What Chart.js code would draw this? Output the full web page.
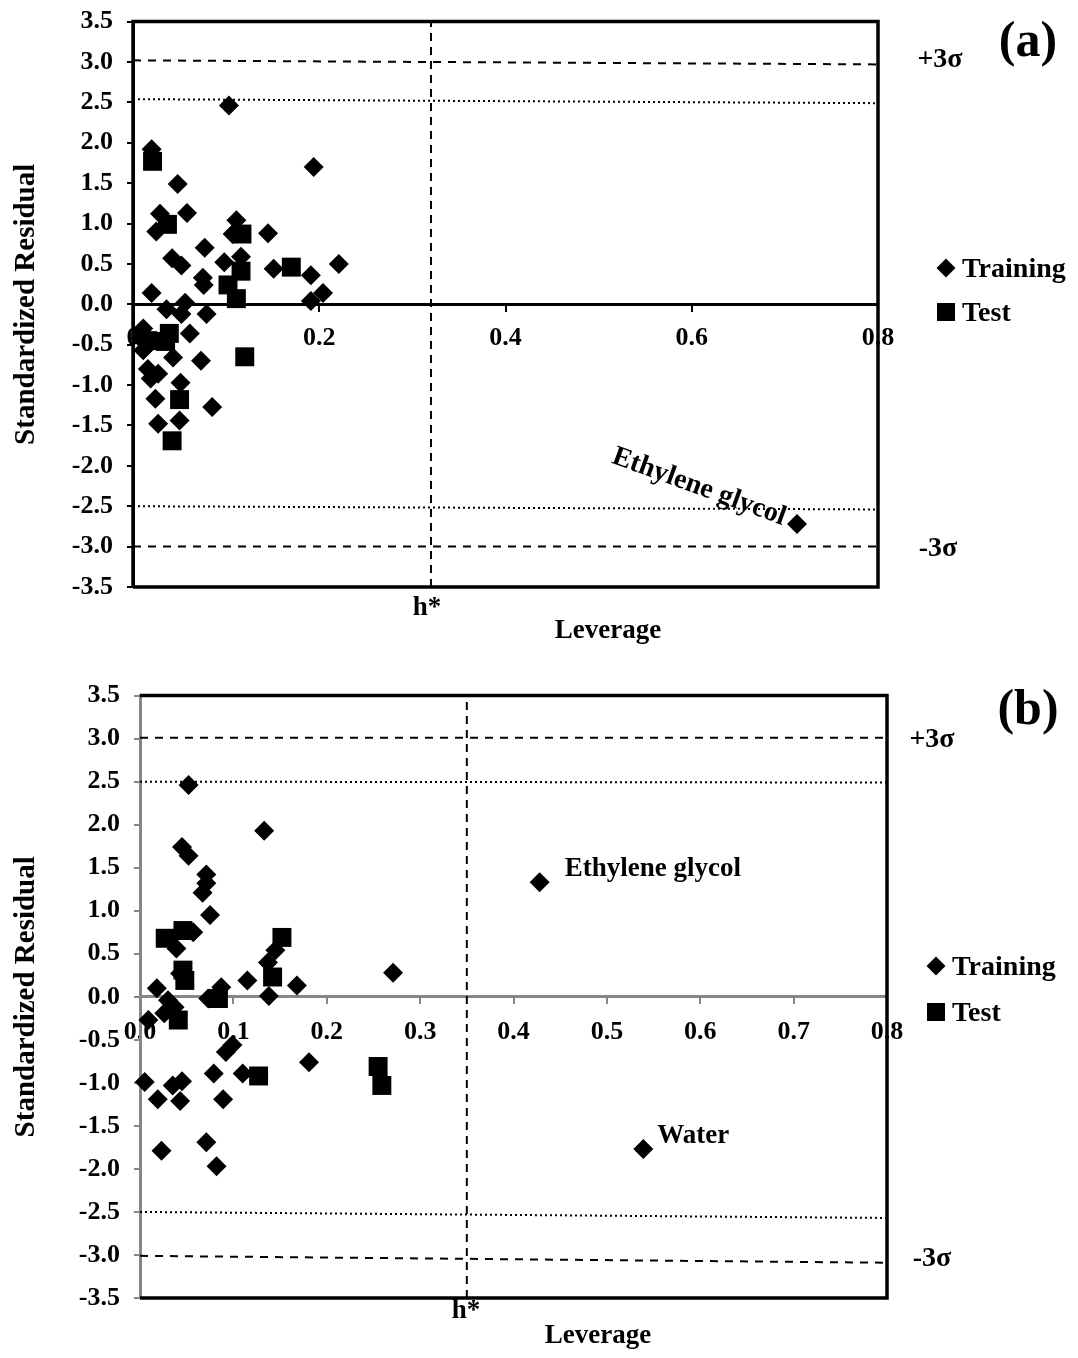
<!DOCTYPE html>
<html>
<head>
<meta charset="utf-8">
<script src="https://cdn.jsdelivr.net/npm/chart.js@4.4.0/dist/chart.umd.min.js"></script>
<style>
  body { margin: 0; background: #fff; }
  .box { position: absolute; left: 0; width: 1078px; }
  #boxA { top: -8px; height: 660px; }
  #boxB { top: 666px; height: 692px; }
</style>
</head>
<body>
<div class="box" id="boxA"><canvas id="chartA"></canvas></div>
<div class="box" id="boxB"><canvas id="chartB"></canvas></div>
<script>
/* ---- (a) ---- */
const trainLevA = [0.103, 0.020, 0.048, 0.194, 0.029, 0.025, 0.058, 0.111, 0.107, 0.145, 0.077, 0.042, 0.052, 0.098,
  0.116, 0.151, 0.221, 0.191, 0.204, 0.191, 0.075, 0.076, 0.020, 0.036, 0.056, 0.052, 0.079, 0.011, 0.061, 0.008,
  0.011, 0.043, 0.073, 0.016, 0.027, 0.019, 0.051, 0.024, 0.085, 0.027, 0.050, 0.713];
const trainResA = [2.46, 1.92, 1.49, 1.70, 1.12, 0.90, 1.13, 1.04, 0.87, 0.88, 0.70, 0.57, 0.48, 0.52,
  0.59, 0.44, 0.50, 0.36, 0.14, 0.04, 0.33, 0.24, 0.14, -0.06, 0.02, -0.12, -0.12, -0.30, -0.36, -0.42,
  -0.57, -0.66, -0.70, -0.80, -0.86, -0.92, -0.97, -1.17, -1.27, -1.48, -1.44, -2.72];
const testLevA = [0.021, 0.037, 0.117, 0.116, 0.170, 0.102, 0.111, 0.039, 0.016, 0.035, 0.120, 0.050, 0.042];
const testResA = [1.77, 0.99, 0.87, 0.41, 0.46, 0.24, 0.07, -0.36, -0.45, -0.46, -0.65, -1.18, -1.69];
const hStarA = 0.32;
const limitLevA = [0, 0.8];
const plus3A = [3.02, 2.97];
const plus25A = [2.54, 2.49];
const minus25A = [-2.50, -2.54];
const minus3A = [-3.00, -3.00];

/* ---- (b) ---- */
const trainLevB = [0.052, 0.133, 0.045, 0.052, 0.071, 0.071, 0.067, 0.075, 0.057, 0.039, 0.145, 0.137, 0.168, 0.115,
  0.138, 0.043, 0.018, 0.030, 0.037, 0.026, 0.009, 0.087, 0.073, 0.271, 0.099, 0.092, 0.181, 0.110, 0.079, 0.005,
  0.035, 0.045, 0.019, 0.043, 0.089, 0.023, 0.071, 0.082, 0.428, 0.539];
const trainResB = [2.46, 1.93, 1.74, 1.64, 1.42, 1.32, 1.21, 0.95, 0.75, 0.56, 0.54, 0.40, 0.13, 0.19,
  0.01, 0.27, 0.10, -0.04, -0.12, -0.19, -0.27, 0.11, -0.02, 0.28, -0.56, -0.64, -0.76, -0.89, -0.89, -0.99,
  -1.03, -0.98, -1.19, -1.21, -1.19, -1.79, -1.69, -1.97, 1.33, -1.77];
const testLevB = [0.027, 0.046, 0.152, 0.142, 0.046, 0.048, 0.084, 0.041, 0.127, 0.255, 0.259];
const testResB = [0.68, 0.77, 0.69, 0.23, 0.31, 0.19, -0.02, -0.27, -0.92, -0.81, -1.03];
const hStarB = 0.35;
const limitLevB = [0, 0.8];
const plus3B = [3.01, 3.01];
const plus25B = [2.50, 2.49];
const minus25B = [-2.50, -2.57];
const minus3B = [-3.01, -3.09];

const yTicks = ['-3.5', '-3.0', '-2.5', '-2.0', '-1.5', '-1.0', '-0.5', '0.0', '0.5', '1.0', '1.5', '2.0', '2.5', '3.0', '3.5'];

const serif = '"Liberation Serif", "Times New Roman", serif';

function pts(xs, ys) {
  return xs.map((x, i) => ({ x: x, y: ys[i] }));
}

function refLine(xs, ys, dash) {
  return {
    label: '', data: pts(xs, ys), showLine: true, borderColor: '#000', borderWidth: 2,
    borderDash: dash, pointRadius: 0, fill: false
  };
}

// extra drawing per canvas (kept outside chart options)
const decorCfg = {};

// frame, legend and free text
const decor = {
  id: 'decor',
  afterDraw(chart) {
    const o = decorCfg[chart.canvas.id];
    const ctx = chart.ctx, a = chart.chartArea;
    ctx.save();
    ctx.strokeStyle = '#000';
    ctx.lineWidth = o.frameWidth;
    ctx.beginPath();
    if (o.leftSide) { ctx.moveTo(a.left, a.bottom); ctx.lineTo(a.left, a.top); } else { ctx.moveTo(a.left, a.top); }
    ctx.lineTo(a.right, a.top);
    ctx.lineTo(a.right, a.bottom);
    ctx.lineTo(a.left, a.bottom);
    ctx.stroke();

    ctx.fillStyle = '#000';
    // legend
    const lg = o.legend;
    ctx.beginPath();
    ctx.moveTo(lg.x, lg.y1 - 9.5); ctx.lineTo(lg.x + 9.5, lg.y1); ctx.lineTo(lg.x, lg.y1 + 9.5); ctx.lineTo(lg.x - 9.5, lg.y1);
    ctx.closePath(); ctx.fill();
    ctx.fillRect(lg.x - 9, lg.y2 - 9, 18, 18);
    ctx.font = 'bold 28px ' + serif;
    ctx.textAlign = 'left';
    ctx.textBaseline = 'alphabetic';
    ctx.fillText('Training', lg.x + 16, lg.y1 + 9);
    ctx.fillText('Test', lg.x + 16, lg.y2 + 9);

    o.texts.forEach(t => {
      let x = t.x, y = t.y;
      if (t.at) {
        x = chart.scales.x.getPixelForValue(t.at[0]) + t.x;
        y = chart.scales.y.getPixelForValue(t.at[1]) + t.y;
      }
      ctx.save();
      ctx.font = 'bold ' + t.size + 'px ' + serif;
      ctx.textAlign = t.align || 'center';
      ctx.textBaseline = t.base || 'alphabetic';
      ctx.translate(x, y);
      if (t.rot) ctx.rotate(t.rot * Math.PI / 180);
      ctx.fillText(t.text, 0, 0);
      ctx.restore();
    });
    ctx.restore();
  }
};

function makeChart(id, d) {
  decorCfg[id] = d.decor;
  return new Chart(document.getElementById(id), {
    type: 'scatter',
    data: {
      datasets: [
        { label: 'Test', data: pts(d.testLev, d.testRes), pointStyle: 'rect', pointRadius: 13.4,
          backgroundColor: '#000', borderWidth: 0, clip: false },
        { label: 'Training', data: pts(d.trainLev, d.trainRes), pointStyle: 'rectRot', pointRadius: 10,
          backgroundColor: '#000', borderWidth: 0, clip: false },
        refLine(d.limitLev, d.plus3, [8, 7]),
        refLine(d.limitLev, d.plus25, [2, 3]),
        refLine(d.limitLev, d.minus25, [2, 3]),
        refLine(d.limitLev, d.minus3, [8, 7]),
        refLine([d.hStar, d.hStar], [-3.5, 3.5], [8, 6])
      ]
    },
    options: {
      responsive: true,
      maintainAspectRatio: false,
      animation: false,
      events: [],
      layout: { padding: d.pad },
      plugins: {
        legend: { display: false },
        tooltip: { enabled: false }
      },
      scales: {
        x: {
          type: 'linear',
          position: { y: 0 },
          min: 0, max: 0.8,
          ticks: {
            stepSize: d.xStep,
            color: '#000',
            padding: d.xPad,
            font: { family: serif, size: 26, weight: 'bold' },
            callback: v => d.xLabel(v)
          },
          grid: { drawOnChartArea: false, drawTicks: true, tickLength: 6, color: d.axisColor, lineWidth: 2 },
          border: { color: d.axisColor, width: 3 }
        },
        y: {
          min: -3.5, max: 3.5,
          afterFit: s => { s.width = d.yWidth; },
          ticks: {
            stepSize: 0.5,
            color: '#000',
            padding: 14,
            font: { family: serif, size: 26, weight: 'bold' },
            callback: v => yTicks[Math.round((v + 3.5) * 2)]
          },
          grid: { drawOnChartArea: false, drawTicks: true, tickLength: 6, color: d.axisColor, lineWidth: 2 },
          border: { color: d.axisColor, width: 3 },
          title: {
            display: true, text: 'Standardized Residual', color: '#000',
            font: { family: serif, size: 29, weight: 'bold' },
            padding: { top: 9, bottom: 0 }
          }
        }
      }
    },
    plugins: [decor]
  });
}

makeChart('chartA', {
  trainLev: trainLevA, trainRes: trainResA, testLev: testLevA, testRes: testResA,
  hStar: hStarA, limitLev: limitLevA, plus3: plus3A, plus25: plus25A, minus25: minus25A, minus3: minus3A,
  pad: { left: 0, right: 200, top: 20, bottom: 65 },
  yWidth: 133, xStep: 0.2, xPad: 12, axisColor: '#000',
  xLabel: v => (v === 0 ? '0' : v.toFixed(1)),
  decor: {
    frameWidth: 3.5, leftSide: true,
    legend: { x: 946, y1: 276, y2: 320 },
    texts: [
      { text: '(a)', x: 1028, y: 64, size: 50 },
      { text: '+3σ', x: 940, y: 75, size: 28 },
      { text: '-3σ', x: 938, y: 564, size: 28 },
      { text: 'h*', x: 427, y: 623, size: 27 },
      { text: 'Leverage', x: 608, y: 646, size: 27 },
      { text: 'Ethylene glycol', at: [trainLevA[41], trainResA[41]], x: -98, y: -37, size: 28, rot: 20, base: 'middle' }
    ]
  }
});

makeChart('chartB', {
  trainLev: trainLevB, trainRes: trainResB, testLev: testLevB, testRes: testResB,
  hStar: hStarB, limitLev: limitLevB, plus3: plus3B, plus25: plus25B, minus25: minus25B, minus3: minus3B,
  pad: { left: 0, right: 191, top: 25, bottom: 60 },
  yWidth: 140, xStep: 0.1, xPad: 14, axisColor: '#868686',
  xLabel: v => v.toFixed(1),
  decor: {
    frameWidth: 3.5, leftSide: false,
    legend: { x: 936, y1: 300, y2: 346 },
    texts: [
      { text: '(b)', x: 1028, y: 58, size: 50 },
      { text: '+3σ', x: 932, y: 81, size: 28 },
      { text: '-3σ', x: 932, y: 600, size: 28 },
      { text: 'h*', x: 466, y: 652, size: 27 },
      { text: 'Leverage', x: 598, y: 677, size: 27 },
      { text: 'Ethylene glycol', at: [trainLevB[38], trainResB[38]], x: 25, y: -6, size: 27, align: 'left' },
      { text: 'Water', at: [trainLevB[39], trainResB[39]], x: 14, y: -6, size: 27, align: 'left' }
    ]
  }
});
</script>
</body>
</html>
